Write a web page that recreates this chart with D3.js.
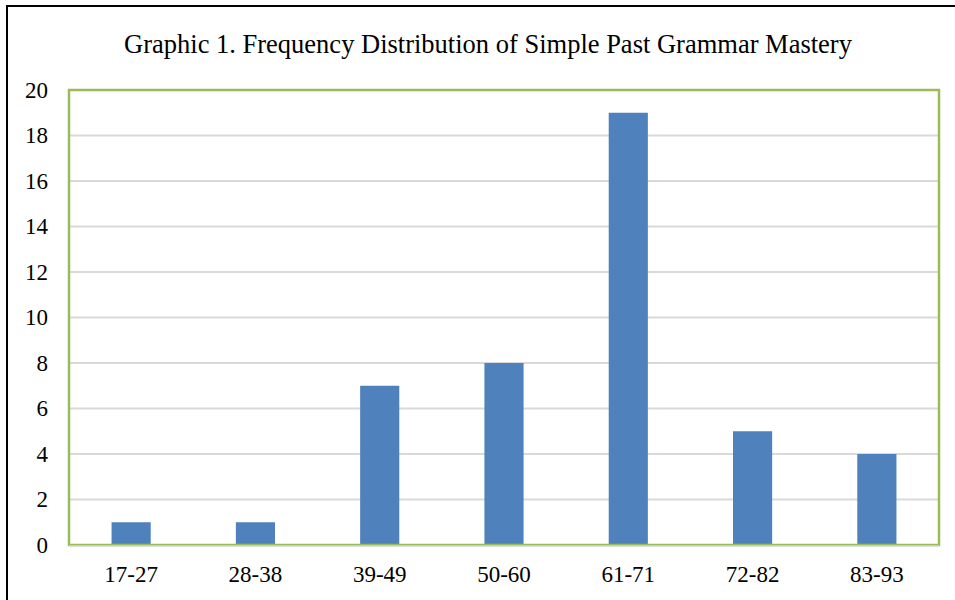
<!DOCTYPE html>
<html><head><meta charset="utf-8">
<script src="https://cdn.jsdelivr.net/npm/d3@7"></script>
<style>body{margin:0;background:#fff}svg{display:block}svg text{font-family:'Liberation Serif','Times New Roman',serif}</style>
</head><body>
<script>
const title = "Graphic 1. Frequency Distribution of Simple Past Grammar Mastery";
const categories = ["17-27","28-38","39-49","50-60","61-71","72-82","83-93"];
const values = [1,1,7,8,19,5,4];
const yTicks = [0,2,4,6,8,10,12,14,16,18,20];

const W = 955, H = 600;
const m = {left:69, right:16, top:90, bottom:55};
const svg = d3.select("body").append("svg").attr("width",W).attr("height",H);
const font = "'Liberation Serif','Times New Roman',serif";

// outer frame (left and top)
svg.append("line").attr("x1",7).attr("x2",7).attr("y1",6).attr("y2",H).attr("stroke","#000").attr("stroke-width",2);
svg.append("line").attr("x1",6).attr("x2",W).attr("y1",6).attr("y2",6).attr("stroke","#000").attr("stroke-width",2);

const x = d3.scaleBand().domain(categories).range([m.left, W-m.right]).paddingInner(0.685).paddingOuter(0.3425);
const y = d3.scaleLinear().domain([0,20]).range([H-m.bottom, m.top]);

svg.append("text").attr("x",488).attr("y",53).attr("text-anchor","middle")
  .style("font-family",font).attr("font-size",26.5).attr("fill","#000").text(title);

// gridlines
svg.append("g").selectAll("line").data(yTicks.filter(d=>d>0)).join("line")
  .attr("x1",m.left).attr("x2",W-m.right).attr("y1",d=>y(d)).attr("y2",d=>y(d))
  .attr("stroke","#d9d9d9").attr("stroke-width",2);

// bars
svg.append("g").selectAll("rect").data(values).join("rect")
  .attr("x",(d,i)=>x(categories[i])).attr("width",x.bandwidth())
  .attr("y",d=>y(d)).attr("height",d=>y(0)-y(d))
  .attr("fill","#4f81bd");

// plot border
svg.append("rect").attr("x",m.left).attr("y",m.top).attr("width",W-m.right-m.left).attr("height",H-m.bottom-m.top)
  .attr("fill","none").attr("stroke","#9bbb59").attr("stroke-width",2.5);
// x axis line
svg.append("line").attr("x1",m.left).attr("x2",W-m.right).attr("y1",y(0)+1).attr("y2",y(0)+1)
  .attr("stroke","#d9d9d9").attr("stroke-width",1.5);

// y axis
const ya = svg.append("g").attr("transform",`translate(${m.left},0)`)
  .call(d3.axisLeft(y).tickValues(yTicks).tickSize(0).tickPadding(21));
ya.select(".domain").remove();
ya.attr("font-family",null).style("font-family",font);
ya.selectAll("text").style("font-family",font).attr("font-size",23).attr("fill","#000");

// x axis
const xa = svg.append("g").attr("transform",`translate(0,${H-m.bottom})`)
  .call(d3.axisBottom(x).tickSize(0).tickPadding(21));
xa.select(".domain").remove();
xa.attr("font-family",null).style("font-family",font);
xa.selectAll("text").style("font-family",font).attr("font-size",23).attr("fill","#000");
</script>
</body></html>
